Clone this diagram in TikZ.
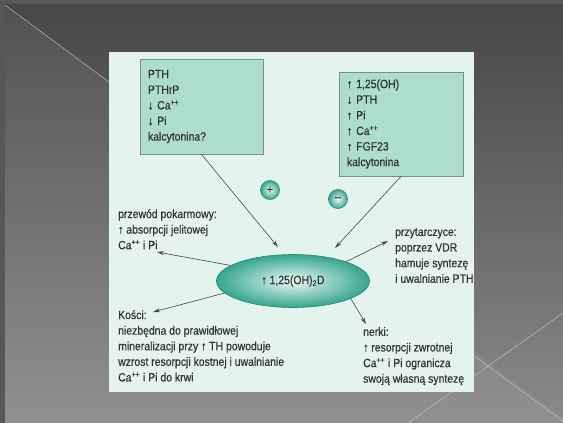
\documentclass[tikz,border=0pt]{standalone}
\usepackage{fontspec}
\setmainfont{Liberation Sans}[FakeStretch=0.87, FakeBold=0.5]
\usetikzlibrary{shapes.geometric}
\usetikzlibrary{arrows.meta}
\definecolor{ink}{HTML}{333333}
\definecolor{panel}{HTML}{E4F3EE}
\definecolor{boxfill}{HTML}{ADDDCF}
\definecolor{boxline}{HTML}{7D8E89}
\definecolor{teal}{HTML}{35A58C}
\definecolor{tealdark}{HTML}{2B8572}
\definecolor{tealpale}{HTML}{EAF9F4}
\tikzset{
    box/.style={draw=boxline, fill=boxfill, line width=0.8pt, text=ink, align=left,
        inner xsep=8pt, inner ysep=0pt},
    lbl/.style={text=ink, align=left, anchor=north west, inner sep=0pt},
    arr/.style={draw=ink!90, line width=0.6pt, -{Stealth[length=7pt,width=4pt]}},
    sign/.style={circle, draw=tealdark, line width=0.6pt, inner color=tealpale, outer color=teal,
        minimum size=19pt, inner sep=0pt, text=ink}
}

\begin{document}
\begin{tikzpicture}[x=1pt, y=-1pt, font=\fontsize{12}{15.6}\selectfont]
    \useasboundingbox (0,0) rectangle (563,423);
    \fill [black!66] (0,0) rectangle (563,423);
    \shade [top color=black!72, bottom color=black!46] (5,4) rectangle (563,423);
    \fill [white, opacity=0.06] (5,5) -- (563,418) -- (563,423) -- (5,423) -- cycle;
    \draw [white!55!gray, line width=0.4pt] (5,5) -- (109,82);
    \draw [white!55!gray, line width=0.4pt] (563,313) -- (408,423);
    \draw [white!55!gray, line width=0.4pt] (474,356) -- (563,421);
    \fill [panel] (109,52) rectangle (474,392);

    \node [box, text width=107pt, minimum height=95pt] (srcL) at (201.5,106.5) {PTH\\PTHrP\\↓ Ca\textsuperscript{++}\\↓ Pi\\kalcytonina?};
    \node [box, text width=108pt, minimum height=104pt] (srcR) at (401,124) {↑ 1,25(OH)\\↓ PTH\\↑ Pi\\↑ Ca\textsuperscript{++}\\↑ FGF23\\kalcytonina};

    \node [ellipse, draw=tealdark, line width=0.6pt, inner color=tealpale, outer color=teal,
        minimum width=153pt, minimum height=53pt, text=ink] (vitD) at (293,281) {↑ 1,25(OH)\textsubscript{2}D};

    \node [sign] (plus) at (270,190) {+};
    \node [sign] (minus) at (338,199) {–};

    \node [lbl] (gut) at (118,209) {przewód pokarmowy:\\↑ absorpcji jelitowej\\Ca\textsuperscript{++} i Pi};
    \node [lbl] (bone) at (118,310) {Kości:\\niezbędna do prawidłowej\\mineralizacji przy ↑ TH powoduje\\wzrost resorpcji kostnej i uwalnianie\\Ca\textsuperscript{++} i Pi do krwi};
    \node [lbl] (para) at (395,228) {przytarczyce:\\poprzez VDR\\hamuje syntezę\\i uwalnianie PTH};
    \node [lbl] (kidney) at (363,327) {nerki:\\↑ resorpcji zwrotnej\\Ca\textsuperscript{++} i Pi ogranicza\\swoją własną syntezę};

    \coordinate (inL) at (278,247);
    \coordinate (inR) at (335,248);
    \coordinate (toGut) at (157,252);
    \coordinate (toBone) at (153,312);
    \coordinate (toPara) at (388,241);
    \coordinate (toKidney) at (366,324);

    \draw [arr] (srcL.south) -- (inL);
    \draw [arr] (srcR.south) -- (inR);
    \draw [arr] (vitD.166) -- (toGut);
    \draw [arr] (vitD.190) -- (toBone);
    \draw [arr] (vitD.20) -- (toPara);
    \draw [arr] (vitD.-17) -- (toKidney);
\end{tikzpicture}
\end{document}
